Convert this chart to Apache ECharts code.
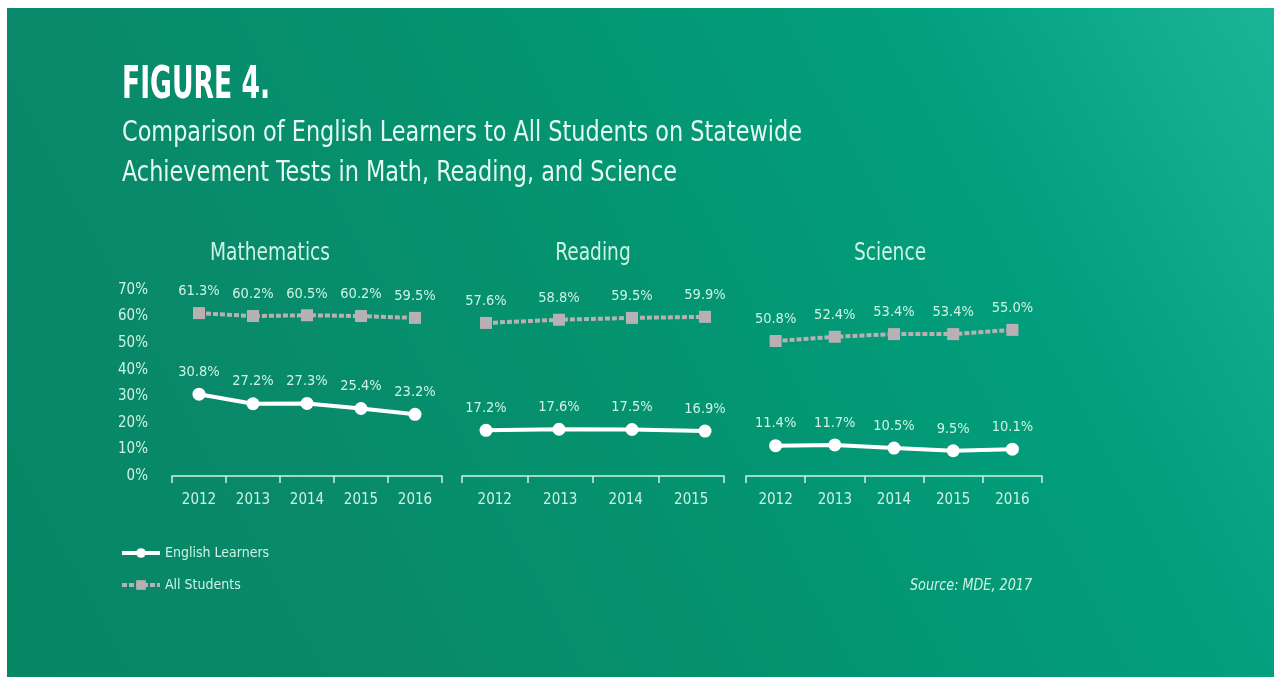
<!DOCTYPE html>
<html>
<head>
<meta charset="utf-8">
<script src="https://cdn.jsdelivr.net/npm/echarts@6/dist/echarts.min.js"></script>
<style>
html,body{margin:0;padding:0;background:#ffffff;}
#chart{width:1274px;height:677px;}
</style>
</head>
<body>
<div id="chart"></div>
<script>
// ---- data ----
const years5 = ['2012', '2013', '2014', '2015', '2016'];
const years4 = ['2012', '2013', '2014', '2015'];
const mathEL = [30.8, 27.2, 27.3, 25.4, 23.2];
const mathAll = [61.3, 60.2, 60.5, 60.2, 59.5];
const readEL = [17.2, 17.6, 17.5, 16.9];
const readAll = [57.6, 58.8, 59.5, 59.9];
const sciEL = [11.4, 11.7, 10.5, 9.5, 10.1];
const sciAll = [50.8, 52.4, 53.4, 53.4, 55.0];
const panelTitles = ['Mathematics', 'Reading', 'Science'];
const seriesNames = ['English Learners', 'All Students'];
const yMin = 0, yMax = 70, yStep = 10;

const FONT = "'DejaVu Sans Condensed', 'Liberation Sans Narrow', sans-serif";
const MINT = '#cdf3e3';
const GRAY = '#b8b1b3';

// horizontal squeeze so the condensed headings match their measured widths
const mctx = document.createElement('canvas').getContext('2d');
function fit(text, font, target) {
  mctx.font = font;
  const w = mctx.measureText(text).width;
  return w > 0 ? target / w : 1;
}

const chart = echarts.init(document.getElementById('chart'), null, {renderer: 'canvas'});

const gridTop = 290, gridH = 186;
const grids = [
  {left: 172, top: gridTop, width: 270, height: gridH},
  {left: 462, top: gridTop, width: 262, height: gridH},
  {left: 486, top: gridTop, width: 219, height: gridH},
  {left: 746, top: gridTop, width: 296, height: gridH}
];

function xAxisCfg(gi, data, visible, gap) {
  return {
    type: 'category', gridIndex: gi, data: data, boundaryGap: gap, show: visible, offset: 3,
    axisLine: {show: true, lineStyle: {color: MINT, width: 1.5}},
    axisTick: {show: true, inside: false, length: 7, lineStyle: {color: MINT, width: 1.5}},
    axisLabel: {color: MINT, fontFamily: FONT, fontSize: 15, margin: 14},
    splitLine: {show: false}
  };
}
function yAxisCfg(gi, showLabels) {
  return {
    type: 'value', gridIndex: gi, min: yMin, max: yMax, interval: yStep,
    axisLine: {show: false}, axisTick: {show: false}, splitLine: {show: false},
    axisLabel: {show: showLabels, color: MINT, fontFamily: FONT, fontSize: 15, margin: 24,
      formatter: '{value}%'}
  };
}

const labelCfg = {
  show: true, position: 'top', distance: 8, color: MINT, fontFamily: FONT, fontSize: 14.5,
  formatter: p => Number(p.value).toFixed(1) + '%'
};

function elSeries(xi, data) {
  return {
    name: seriesNames[0], type: 'line', xAxisIndex: xi, yAxisIndex: xi, data: data,
    symbol: 'circle', symbolSize: 13, z: 5,
    lineStyle: {color: '#ffffff', width: 4},
    itemStyle: {color: '#ffffff', borderWidth: 0},
    label: labelCfg, animation: false
  };
}
function allSeries(xi, data) {
  return {
    name: seriesNames[1], type: 'line', xAxisIndex: xi, yAxisIndex: xi, data: data,
    symbol: 'rect', symbolSize: 12, z: 4,
    lineStyle: {color: GRAY, width: 4, type: [5, 2]},
    itemStyle: {color: GRAY, borderWidth: 0},
    label: labelCfg, animation: false
  };
}

const fTitle = "bold 44px " + FONT;
const fSub = "28px " + FONT;
const fPanel = "24px " + FONT;
const fSrc = "italic 15px " + FONT;
const sub1 = 'Comparison of English Learners to All Students on Statewide';
const sub2 = 'Achievement Tests in Math, Reading, and Science';
const subScale = fit(sub1, fSub, 680);
const panelScale = fit(panelTitles[0], fPanel, 120);

const option = {
  animation: false,
  grid: grids,
  xAxis: [
    xAxisCfg(0, years5, true, true),
    xAxisCfg(1, years4, true, true),
    xAxisCfg(2, years4, false, false),
    xAxisCfg(3, years5, true, true)
  ],
  yAxis: [yAxisCfg(0, true), yAxisCfg(1, false), yAxisCfg(2, false), yAxisCfg(3, false)],
  legend: {
    data: seriesNames, orient: 'vertical', left: 120, top: 546, padding: 0,
    itemWidth: 38, itemHeight: 12, itemGap: 18,
    lineStyle: {width: 4},
    textStyle: {color: MINT, fontFamily: FONT, fontSize: 14}
  },
  series: [
    allSeries(0, mathAll), elSeries(0, mathEL),
    allSeries(2, readAll), elSeries(2, readEL),
    allSeries(3, sciAll), elSeries(3, sciEL)
  ],
  graphic: {
    elements: [
      {type: 'rect', z: -100, silent: true,
       shape: {x: 7, y: 8, width: 1267, height: 669},
       style: {fill: {type: 'linear', x: 0, y: 1, x2: 1, y2: 0, colorStops: [
         {offset: 0, color: '#058665'},
         {offset: 0.22, color: '#09896a'},
         {offset: 0.5, color: '#049370'},
         {offset: 0.78, color: '#02a07e'},
         {offset: 1, color: '#1ab596'}
       ]}}},
      {type: 'text', x: 122, y: 87, scaleX: fit('FIGURE 4.', fTitle, 148),
        style: {text: 'FIGURE 4.', fill: '#ffffff', font: fTitle, verticalAlign: 'middle'}},
      {type: 'text', x: 122, y: 134, scaleX: subScale,
        style: {text: sub1, fill: '#e4f9ef', font: fSub, verticalAlign: 'middle'}},
      {type: 'text', x: 122, y: 174, scaleX: subScale,
        style: {text: sub2, fill: '#e4f9ef', font: fSub, verticalAlign: 'middle'}},
      {type: 'text', x: 270, y: 254, scaleX: panelScale,
        style: {text: panelTitles[0], fill: MINT, font: fPanel, align: 'center', verticalAlign: 'middle'}},
      {type: 'text', x: 593, y: 254, scaleX: panelScale,
        style: {text: panelTitles[1], fill: MINT, font: fPanel, align: 'center', verticalAlign: 'middle'}},
      {type: 'text', x: 890, y: 254, scaleX: panelScale,
        style: {text: panelTitles[2], fill: MINT, font: fPanel, align: 'center', verticalAlign: 'middle'}},
      {type: 'text', x: 1032, y: 586, scaleX: fit('Source: MDE, 2017', fSrc, 122),
        style: {text: 'Source: MDE, 2017', fill: MINT, font: fSrc, align: 'right', verticalAlign: 'middle'}}
    ]
  }
};
chart.setOption(option);
</script>
</body>
</html>
